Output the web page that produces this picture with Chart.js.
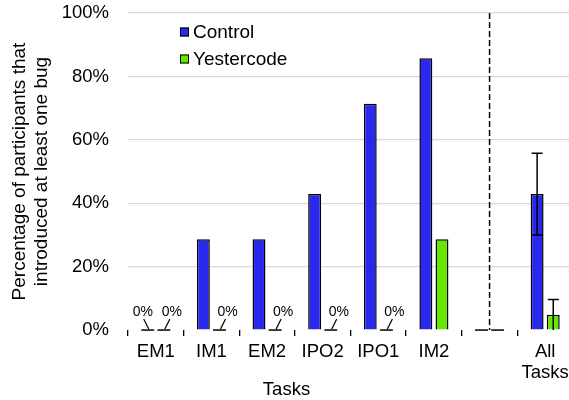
<!DOCTYPE html>
<html>
<head>
<meta charset="utf-8">
<script src="https://cdn.jsdelivr.net/npm/chart.js@4"></script>
<style>
  html, body { margin: 0; padding: 0; background: #fff; overflow: hidden; width: 569px; height: 400px; }
  canvas { display: block; }
</style>
</head>
<body>
<canvas id="chart-canvas" width="584" height="400"></canvas>
<script>
const categories = ['EM1', 'IM1', 'EM2', 'IPO2', 'IPO1', 'IM2', '', ['All', 'Tasks']];
const controlValues = [0, 28.6, 28.6, 42.9, 71.4, 85.7, 0, 42.9];
const yestercodeValues = [0, 0, 0, 0, 0, 28.6, 0, 4.8];
const controlErrors = [null, null, null, null, null, null, null, 12.9];
const yestercodeErrors = [null, null, null, null, null, null, null, 4.8];
const yTicks = [0, 20, 40, 60, 80, 100];

const FONT = 'Liberation Sans, Arial, sans-serif';

// legend drawn inside the plot, top-left
const insideLegend = {
  id: 'insideLegend',
  afterDraw(chart) {
    const ctx = chart.ctx;
    ctx.save();
    ctx.font = '19px ' + FONT;
    ctx.textBaseline = 'middle';
    chart.data.datasets.forEach((ds, i) => {
      const y = 32 + i * 27;
      ctx.fillStyle = ds.backgroundColor;
      ctx.fillRect(180, y - 4.5, 9, 9);
      ctx.strokeStyle = '#000';
      ctx.lineWidth = 1;
      ctx.strokeRect(180.5, y - 4, 8, 8);
      ctx.fillStyle = '#000';
      ctx.fillText(ds.label, 193, y + 1);
    });
    ctx.restore();
  }
};

// dashed separator through the empty category
const separator = {
  id: 'separator',
  beforeDatasetsDraw(chart) {
    const x = chart.scales.x.getPixelForValue(categories.indexOf(''));
    const a = chart.chartArea;
    const ctx = chart.ctx;
    ctx.save();
    ctx.strokeStyle = '#000';
    ctx.lineWidth = 1.5;
    ctx.setLineDash([6, 3]);
    ctx.beginPath();
    ctx.moveTo(x, a.top);
    ctx.lineTo(x, a.bottom);
    ctx.stroke();
    ctx.restore();
  }
};

// error bars + "0%" labels with leader lines
const extras = {
  id: 'extras',
  afterDatasetsDraw(chart) {
    const ctx = chart.ctx;
    const y = chart.scales.y;
    const errs = [controlErrors, yestercodeErrors];
    ctx.save();
    chart.data.datasets.forEach((ds, di) => {
      const meta = chart.getDatasetMeta(di);
      meta.data.forEach((bar, i) => {
        const v = ds.data[i];
        const e = errs[di][i];
        const base = y.getPixelForValue(0);
        if (e != null) {
          const top = y.getPixelForValue(v + e);
          const bot = y.getPixelForValue(Math.max(0, v - e));
          ctx.strokeStyle = '#000';
          ctx.lineWidth = 1.5;
          ctx.beginPath();
          ctx.moveTo(bar.x, top); ctx.lineTo(bar.x, bot);
          ctx.moveTo(bar.x - 5.5, top); ctx.lineTo(bar.x + 5.5, top);
          if (v - e > 0) { ctx.moveTo(bar.x - 5.5, bot); ctx.lineTo(bar.x + 5.5, bot); }
          ctx.stroke();
        }
        if (v === 0) {
          // zero bars show as a dark stroke on the baseline
          ctx.strokeStyle = '#000';
          ctx.lineWidth = 1.5;
          ctx.beginPath();
          ctx.moveTo(bar.x - bar.width / 2, base);
          ctx.lineTo(bar.x + bar.width / 2, base);
          ctx.stroke();
        }
        if (v === 0 && categories[i] !== '') {
          const lx = di === 0 ? bar.x - 5 : bar.x + 8;
          ctx.fillStyle = '#000';
          ctx.font = '14px ' + FONT;
          ctx.textAlign = 'center';
          ctx.textBaseline = 'middle';
          ctx.fillText('0%', lx, base - 18);
          ctx.strokeStyle = '#000';
          ctx.lineWidth = 1.2;
          ctx.beginPath();
          if (di === 0) { ctx.moveTo(lx + 1, base - 11); }
          else { ctx.moveTo(lx - 2, base - 11); }
          ctx.lineTo(bar.x + 1, base - 1);
          ctx.stroke();
        }
      });
    });
    ctx.restore();
  }
};

new Chart(document.getElementById('chart-canvas'), {
  type: 'bar',
  data: {
    labels: categories,
    datasets: [
      {
        label: 'Control',
        data: controlValues,
        backgroundColor: '#2828EE',
        borderColor: '#000',
        borderWidth: 1.5,
      },
      {
        label: 'Yestercode',
        data: yestercodeValues,
        backgroundColor: '#66E600',
        borderColor: '#000',
        borderWidth: 1.5,
      },
    ],
  },
  options: {
    responsive: false,
    animation: false,
    devicePixelRatio: 1,
    categoryPercentage: 0.58,
    barPercentage: 0.8,
    layout: { padding: { top: 13, right: 11, left: 0, bottom: 0 } },
    plugins: {
      legend: { display: false },
      tooltip: { enabled: false },
      title: {
        display: true,
        position: 'bottom',
        text: 'Tasks',
        color: '#000',
        font: { family: FONT, size: 18.5, weight: 'normal', lineHeight: 1.1 },
        padding: { top: 0, bottom: 0 },
      },
    },
    scales: {
      x: {
        afterFit(s) { s.height = 49.6; },
        border: { display: false },
        grid: {
          offset: true,
          drawOnChartArea: false,
          drawTicks: true,
          tickLength: 6,
          color: '#000',
          lineWidth: 1.3,
        },
        ticks: {
          color: '#000',
          padding: 6,
          maxRotation: 0,
          autoSkip: false,
          font: { family: FONT, size: 18.5, lineHeight: 1.1 },
        },
      },
      y: {
        min: 0,
        max: 100,
        afterFit(s) { s.width = 128; s.paddingTop = 0; s.paddingBottom = 0; },
        afterBuildTicks(s) { s.ticks = yTicks.map(v => ({ value: v })); },
        border: { display: false },
        grid: {
          drawTicks: false,
          color: (c) => c.tick && c.tick.value === 0 ? 'rgba(0,0,0,0)' : '#d9d9d9',
          lineWidth: 1.3,
        },
        ticks: {
          color: '#000',
          padding: 19,
          font: { family: FONT, size: 18.5 },
          callback: (v) => v + '%',
        },
        title: {
          display: true,
          text: ['Percentage of participants that', 'introduced at least one bug'],
          color: '#000',
          font: { family: FONT, size: 19, lineHeight: 1.15 },
          padding: { top: 9, bottom: 0 },
        },
      },
    },
  },
  plugins: [separator, extras, insideLegend],
});
</script>
</body>
</html>
